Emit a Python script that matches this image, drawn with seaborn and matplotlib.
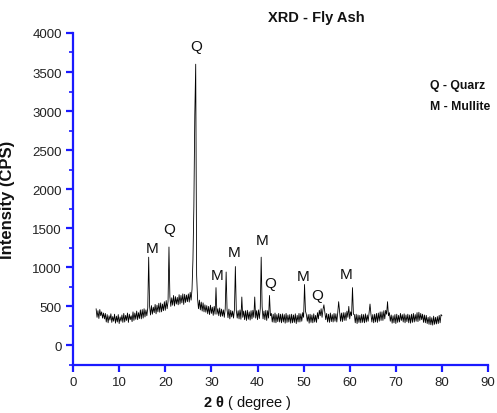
import numpy as np
import pandas as pd
import matplotlib
matplotlib.use("Agg")
import matplotlib.pyplot as plt
import seaborn as sns

# 2-theta scan from 5 to 80 degrees, 0.2 degree step
two_theta_start = 5.0
two_theta_stop = 80.0
two_theta_step = 0.2

# Measured intensity (CPS), ten readings per 2 degrees
intensity = [
    470, 360, 445, 345, 460, 380, 430, 350, 415, 340,
    410, 300, 395, 290, 380, 325, 405, 295, 370, 310,
    400, 285, 375, 300, 395, 280, 365, 310, 390, 295,
    410, 300, 385, 320, 415, 295, 400, 330, 380, 305,
    430, 320, 415, 335, 440, 330, 420, 345, 455, 340,
    460, 350, 470, 365, 455, 380, 480, 1130, 500, 390,
    510, 400, 490, 420, 525, 405, 515, 430, 540, 425,
    545, 430, 530, 445, 560, 450, 575, 470, 560, 1260,
    620, 500, 610, 515, 640, 505, 625, 530, 615, 520,
    650, 530, 640, 545, 660, 525, 655, 550, 645, 560,
    660, 555, 680, 580, 720, 1100, 1780, 2950, 3600, 900,
    600, 470, 580, 455, 555, 440, 545, 430, 520, 425,
    510, 405, 500, 395, 515, 410, 490, 385, 500, 400,
    740, 400, 470, 380, 480, 370, 465, 375, 455, 360,
    470, 940, 455, 355, 465, 340, 450, 365, 440, 350,
    460, 1010, 450, 350, 445, 340, 455, 335, 620, 360,
    440, 330, 445, 320, 450, 335, 430, 325, 445, 340,
    450, 360, 620, 350, 445, 330, 455, 345, 470, 1130,
    500, 340, 440, 330, 450, 320, 445, 350, 640, 380,
    410, 300, 400, 295, 415, 290, 395, 305, 410, 300,
    400, 290, 405, 300, 395, 285, 410, 295, 390, 300,
    395, 285, 400, 290, 390, 295, 405, 280, 385, 300,
    410, 300, 405, 310, 420, 360, 780, 440, 395, 310,
    395, 285, 400, 295, 390, 290, 405, 300, 385, 295,
    420, 340, 450, 380, 470, 360, 460, 520, 430, 330,
    410, 300, 400, 295, 415, 305, 395, 300, 410, 310,
    405, 300, 420, 560, 430, 310, 415, 305, 420, 320,
    420, 320, 440, 360, 500, 340, 430, 380, 740, 400,
    395, 290, 400, 280, 390, 295, 385, 290, 400, 295,
    395, 290, 405, 300, 390, 310, 420, 530, 400, 300,
    395, 290, 400, 300, 410, 295, 415, 310, 430, 320,
    430, 320, 445, 340, 450, 400, 560, 380, 420, 310,
    390, 285, 380, 290, 395, 280, 400, 295, 385, 300,
    410, 320, 395, 300, 405, 290, 390, 305, 400, 290,
    390, 285, 400, 295, 410, 300, 395, 310, 420, 305,
    425, 320, 410, 330, 400, 295, 390, 290, 385, 280,
    360, 270, 370, 265, 355, 260, 375, 270, 360, 275,
    370, 280, 385, 290, 395, 380,
]

# Phase labels placed above the identified reflections
peak_labels = ["M", "Q", "Q", "M", "M", "M", "Q", "M", "Q", "M"]
peak_label_x = [17.1, 20.8, 26.7, 31.2, 34.9, 41.0, 42.7, 49.9, 52.9, 59.2]
peak_label_y = [1250, 1495, 3830, 905, 1200, 1355, 805, 895, 640, 920]

two_theta = np.round(np.arange(two_theta_start, two_theta_stop + two_theta_step / 2,
                               two_theta_step), 2)
df = pd.DataFrame({"two_theta": two_theta, "intensity": intensity})

sns.set_style("ticks")
plt.rcParams["font.family"] = ["Liberation Sans", "DejaVu Sans"]
plt.rcParams["mathtext.fontset"] = "custom"
plt.rcParams["mathtext.rm"] = "Liberation Sans"
plt.rcParams["mathtext.bf"] = "Liberation Sans:bold"
plt.rcParams["mathtext.it"] = "Liberation Sans:italic"

blue = "#1a1aff"
fig = plt.figure(figsize=(4.97, 4.14), dpi=100)
ax = fig.add_axes([0.147, 0.116, 0.835, 0.802])

sns.lineplot(data=df, x="two_theta", y="intensity", ax=ax, color="black",
             linewidth=0.6, estimator=None)

ax.set_xlim(0, 90)
ax.set_ylim(-250, 4000)
ax.set_xticks(np.arange(0, 91, 10))
ax.set_yticks(np.arange(0, 4001, 500))
ax.set_yticks(np.arange(-250, 4001, 250), minor=True)

for side in ("top", "right"):
    ax.spines[side].set_visible(False)
for side in ("left", "bottom"):
    ax.spines[side].set_color(blue)
    ax.spines[side].set_linewidth(1.6)

ax.tick_params(axis="both", which="major", direction="out", length=5, width=1.6,
               color=blue, labelsize=9.5, labelcolor="#222222", pad=3)
ax.tick_params(axis="y", which="minor", direction="out", length=3, width=1.2,
               color=blue)

ax.set_xlabel(r"$\mathbf{2\ \theta}$ ( degree )", fontsize=10.5, color="#111111")
ax.xaxis.set_label_coords(0.42, -0.085)
ax.set_ylabel("Intensity (CPS)", fontsize=12, fontweight="bold", color="#111111")
ax.yaxis.set_label_coords(-0.14, 0.5)

for lab, lx, ly in zip(peak_labels, peak_label_x, peak_label_y):
    ax.text(lx, ly, lab, ha="center", va="center", fontsize=11, color="#111111")

fig.text(0.636, 0.957, "XRD - Fly Ash", ha="center", va="center",
         fontsize=10.5, fontweight="bold", color="#111111")
fig.text(0.866, 0.792, "Q - Quarz", ha="left", va="center",
         fontsize=8.8, fontweight="bold", color="#111111")
fig.text(0.866, 0.742, "M - Mullite", ha="left", va="center",
         fontsize=8.8, fontweight="bold", color="#111111")

fig.savefig("out.png", dpi=100, facecolor="white")
